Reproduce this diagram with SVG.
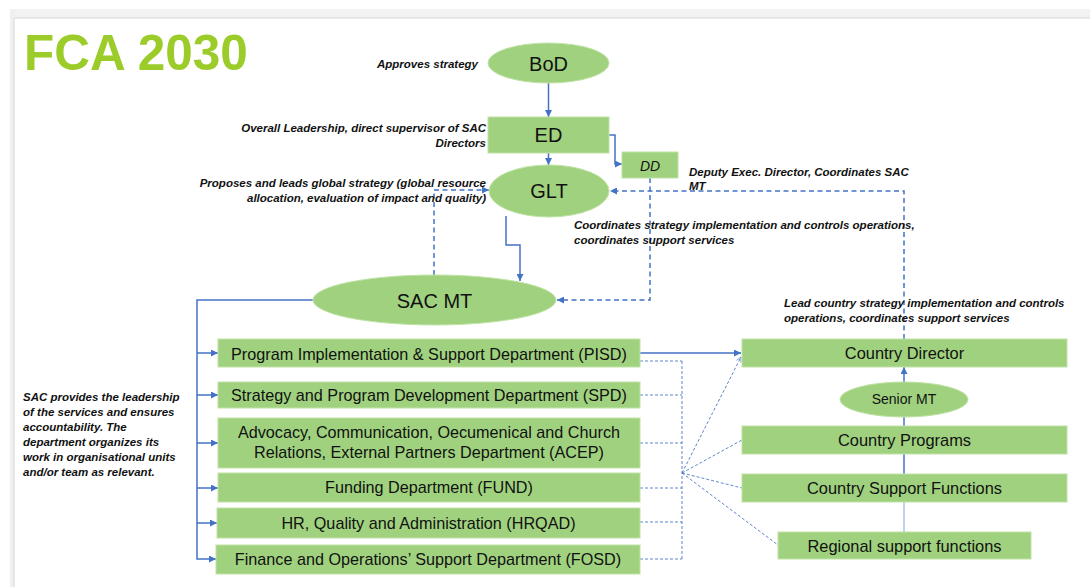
<svg xmlns="http://www.w3.org/2000/svg" width="1090" height="587" viewBox="0 0 1090 587">
<style>
.node{fill:#a0d17f;stroke:#bfe3a5;stroke-width:1}
.nt{font-family:"Liberation Sans",Arial,sans-serif;fill:#111;text-anchor:middle}
.lab{font-family:"Liberation Sans",Arial,sans-serif;font-weight:bold;font-style:italic;font-size:11.5px;fill:#111}
.solid{fill:none;stroke:#4472c4;stroke-width:1.5}
.dash{fill:none;stroke:#4472c4;stroke-width:1.5;stroke-dasharray:5 3.5}
.dot{fill:none;stroke:#4472c4;stroke-width:1;stroke-dasharray:3 2;opacity:.85}
</style>
<defs>
<marker id="arr" viewBox="0 0 10 10" refX="10" refY="5" markerWidth="8" markerHeight="7" markerUnits="userSpaceOnUse" orient="auto"><path d="M0,0 L10,5 L0,10 z" fill="#4472c4"/></marker>
<marker id="arrs" viewBox="0 0 10 10" refX="10" refY="5" markerWidth="6" markerHeight="5" markerUnits="userSpaceOnUse" orient="auto"><path d="M0,0 L10,5 L0,10" fill="none" stroke="#4472c4" stroke-width="1.5"/></marker>
</defs>
<rect width="1090" height="587" fill="#fff"/>
<g id="frame">
<rect x="10" y="9" width="1080" height="9" fill="#f2f2f2"/>
<line x1="10" y1="18" x2="1090" y2="18" stroke="#d6d6d6" stroke-width="1"/>
<rect x="10" y="9" width="4.5" height="578" fill="#f0f0f0"/>
<line x1="14" y1="18" x2="14" y2="587" stroke="#dadada" stroke-width="1"/>
</g>
<text x="24" y="70" font-family="Liberation Sans,Arial,sans-serif" font-weight="bold" font-size="49.5" fill="#9ccc2a">FCA 2030</text>

<g id="connectors">
<path class="solid" d="M548.5,83 V117" marker-end="url(#arr)"/>
<path class="solid" d="M548.5,153 V165" marker-end="url(#arr)"/>
<path class="solid" d="M609,135 H615 V164 H622" marker-end="url(#arr)"/>
<path class="solid" d="M506,216 V245 H520 V281" marker-end="url(#arr)"/>
<path class="dash" d="M434,275 V190 H489" marker-end="url(#arr)"/>
<path class="dash" d="M650,178 V300 H557" marker-end="url(#arr)"/>
<path class="dash" d="M904,339 V191 H610" marker-end="url(#arr)"/>
<path class="solid" stroke-width="2" d="M313,300 H197 V559 H216" marker-end="url(#arr)"/>
<path class="solid" d="M197,353 H218" marker-end="url(#arr)"/>
<path class="solid" d="M197,395 H218" marker-end="url(#arr)"/>
<path class="solid" d="M197,443 H218" marker-end="url(#arr)"/>
<path class="solid" d="M197,488 H218" marker-end="url(#arr)"/>
<path class="solid" d="M197,523 H217" marker-end="url(#arr)"/>
<path class="solid" d="M640,353 H741" marker-end="url(#arr)"/>
<path class="dot" d="M640,361 H682 M640,395 H682 M640,443 H682 M640,488 H682 M640,522 H682 M640,559 H682 M682,361 V559"/>
<path class="dot" d="M682,473 L741,357" marker-end="url(#arrs)"/>
<path class="dot" d="M682,473 L742,440 M682,473 L742,488 M682,473 L778,545"/>
<path class="solid" d="M904,382 V367" marker-end="url(#arr)"/>
<path class="solid" d="M904,417 V502"/>
<path fill="none" stroke="#a9c2ea" stroke-width="1.5" d="M904,502 V532"/>
</g>

<g id="bod"><ellipse class="node" cx="548.5" cy="63" rx="60.5" ry="20"/><text class="nt" x="548.5" y="71" font-size="20">BoD</text></g>
<g id="ed"><rect class="node" x="488" y="117" width="121" height="36"/><text class="nt" x="548.5" y="142" font-size="20">ED</text></g>
<g id="dd"><rect class="node" x="622" y="152" width="56" height="26"/><text class="nt" x="650" y="170.5" font-size="14" font-style="italic">DD</text></g>
<g id="glt"><ellipse class="node" cx="549" cy="191" rx="60" ry="26"/><text class="nt" x="549" y="198" font-size="20">GLT</text></g>
<g id="sacmt"><ellipse class="node" cx="434.5" cy="300" rx="121.5" ry="25"/><text class="nt" x="434.5" y="307.5" font-size="20">SAC MT</text></g>

<g id="pisd"><rect class="node" x="218" y="339" width="422" height="28"/><text class="nt" x="429" y="359.5" font-size="16.2">Program Implementation &amp; Support Department (PISD)</text></g>
<g id="spd"><rect class="node" x="218" y="382" width="422" height="26"/><text class="nt" x="429" y="400.5" font-size="16.2">Strategy and Program Development Department (SPD)</text></g>
<g id="acep"><rect class="node" x="218" y="418" width="422" height="50"/><text class="nt" x="429" y="438" font-size="16.2">Advocacy, Communication, Oecumenical and Church</text><text class="nt" x="429" y="458" font-size="16.2">Relations, External Partners Department (ACEP)</text></g>
<g id="fund"><rect class="node" x="218" y="473" width="422" height="29"/><text class="nt" x="429" y="493" font-size="16.2">Funding Department (FUND)</text></g>
<g id="hrqad"><rect class="node" x="217" y="508" width="423" height="30"/><text class="nt" x="428.5" y="528.5" font-size="16.2">HR, Quality and Administration (HRQAD)</text></g>
<g id="fosd"><rect class="node" x="216" y="545" width="424" height="29"/><text class="nt" x="428" y="565" font-size="16.2">Finance and Operations’ Support Department (FOSD)</text></g>

<g id="cd"><rect class="node" x="742" y="339" width="325" height="28"/><text class="nt" x="904.5" y="358.5" font-size="16.4">Country Director</text></g>
<g id="smt"><ellipse class="node" cx="904" cy="399.5" rx="64" ry="17.5"/><text class="nt" x="904" y="404" font-size="14">Senior MT</text></g>
<g id="cp"><rect class="node" x="742" y="426" width="325" height="28"/><text class="nt" x="904.5" y="446" font-size="16.4">Country Programs</text></g>
<g id="csf"><rect class="node" x="742" y="474" width="325" height="28"/><text class="nt" x="904.5" y="494" font-size="16.4">Country Support Functions</text></g>
<g id="rsf"><rect class="node" x="778" y="532" width="253" height="27"/><text class="nt" x="904.5" y="551.5" font-size="16.4">Regional support functions</text></g>

<g id="labels">
<text class="lab" x="478" y="68" text-anchor="end">Approves strategy</text>
<text class="lab" x="486" y="132" text-anchor="end">Overall Leadership, direct supervisor of SAC</text>
<text class="lab" x="486" y="147" text-anchor="end">Directors</text>
<text class="lab" x="486" y="187" text-anchor="end">Proposes and leads global strategy (global resource</text>
<text class="lab" x="486" y="202" text-anchor="end">allocation, evaluation of impact and quality)</text>
<text class="lab" x="689" y="176">Deputy Exec. Director, Coordinates SAC</text>
<text class="lab" x="689" y="190">MT</text>
<text class="lab" x="574" y="229">Coordinates strategy implementation and controls operations,</text>
<text class="lab" x="574" y="243.5">coordinates support services</text>
<text class="lab" x="784" y="307">Lead country strategy implementation and controls</text>
<text class="lab" x="784" y="322">operations, coordinates support services</text>
<text class="lab" x="23" y="401">SAC provides the leadership</text>
<text class="lab" x="23" y="416">of the services and ensures</text>
<text class="lab" x="23" y="431">accountability.  The</text>
<text class="lab" x="23" y="446">department organizes its</text>
<text class="lab" x="23" y="461">work in organisational units</text>
<text class="lab" x="23" y="476">and/or team as relevant.</text>
</g>
</svg>
